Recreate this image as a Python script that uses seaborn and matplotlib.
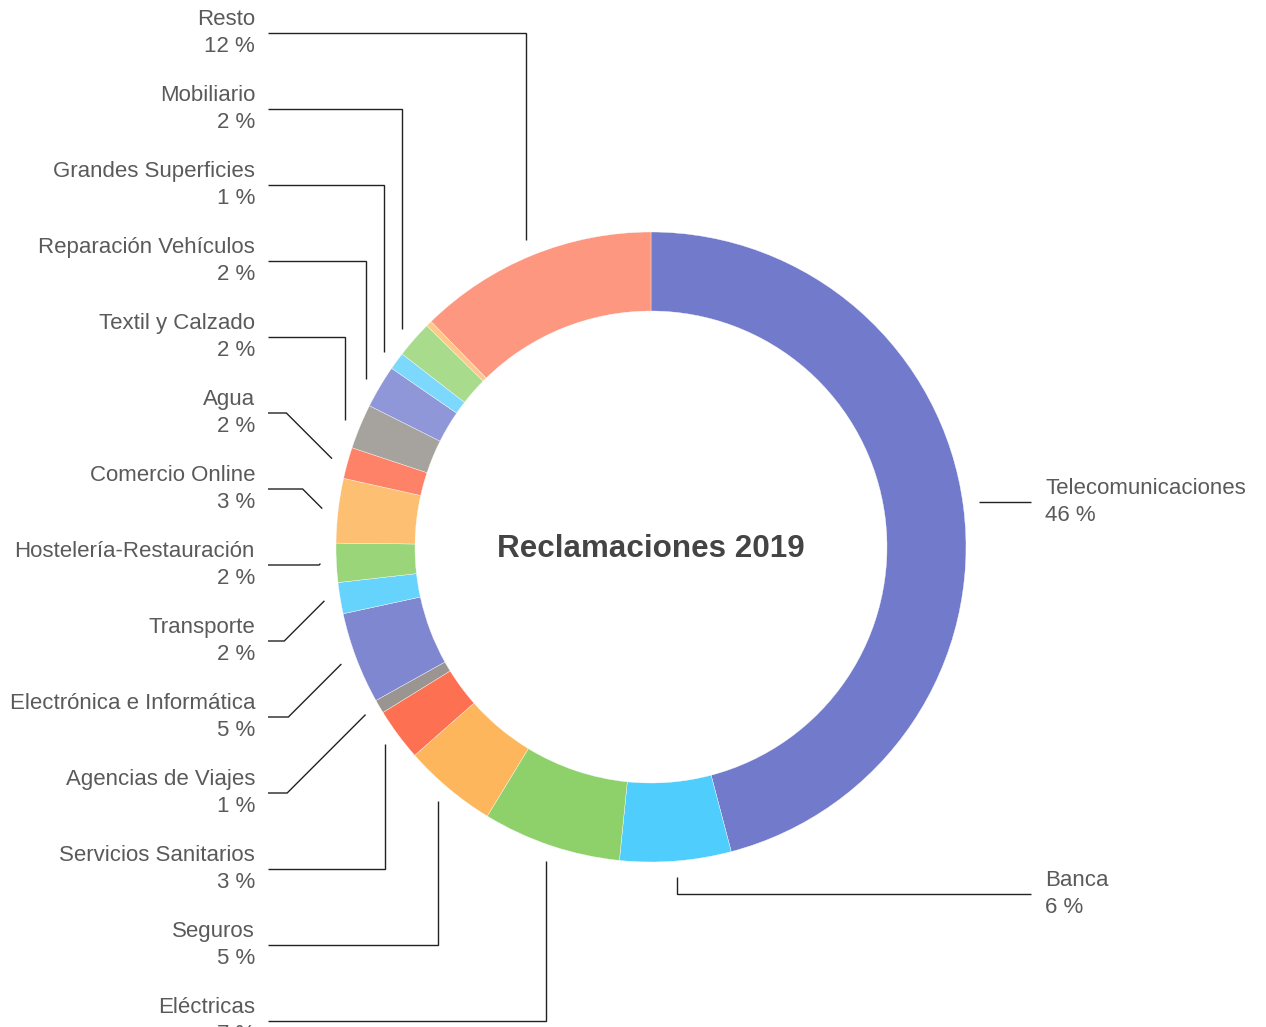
import numpy as np
import matplotlib
matplotlib.use("Agg")
import matplotlib.pyplot as plt
import seaborn as sns

# ---- data (percent of claims, clockwise from 12 o'clock)
categories = [
    "Telecomunicaciones", "Banca", "Eléctricas", "Seguros", "Servicios Sanitarios",
    "Agencias de Viajes", "Electrónica e Informática", "Transporte",
    "Hostelería-Restauración", "Comercio Online", "Agua", "Textil y Calzado",
    "Reparación Vehículos", "Grandes Superficies", "Mobiliario", "", "Resto",
]
values = [45.9, 5.7, 7.1, 4.8, 2.7, 0.7, 4.7, 1.6, 2.0, 3.3, 1.6, 2.3, 2.2, 0.9, 1.9, 0.3, 12.3]
colors = [
    "#717ACB", "#4FCDFD", "#8ED16A", "#FDB65B", "#FD7152", "#9A9590", "#8087D1",
    "#66D3FD", "#9BD57A", "#FDBF72", "#FD8268", "#A6A29E", "#8F97D8", "#7CD9FD",
    "#A8DB8B", "#FDC888", "#FD977F",
]
right_side = ["Telecomunicaciones", "Banca"]
title = "Reclamaciones 2019"

# ---- style
sns.set_theme(style="white")
plt.rcParams["font.family"] = ["Liberation Sans", "DejaVu Sans"]
palette = sns.color_palette(colors)

W, H = 1266, 1027
fig = plt.figure(figsize=(W / 100, H / 100), dpi=100)
ax = fig.add_axes([0, 0, 1, 1])

def Y(py):
    return H - py

cx, cy = 651, Y(547)
R_out, R_in = 315, 236

wedges, _ = ax.pie(values, colors=palette, startangle=90, counterclock=False,
                   radius=R_out, center=(cx, cy),
                   wedgeprops=dict(width=R_out - R_in, linewidth=0.25, edgecolor="white"))

ax.set_xlim(0, W)
ax.set_ylim(0, H)
ax.set_aspect("equal")
ax.axis("off")

ax.text(cx, cy - 2, title, ha="center", va="center", fontsize=22.6, fontweight="bold", color="#444444")

total = sum(values)
text_color = "#5a5a5a"
line_kw = dict(color="#222222", lw=1.0, solid_capstyle="butt", solid_joinstyle="miter")
R_anchor = 331
label_size = 16
lsp = 1.32

# left labels: evenly spaced from top to bottom, order from top (Resto) down to Eléctricas
left_items = [i for i, c in enumerate(categories) if c and c not in right_side]
left_items = left_items[::-1]
left_ys = 33 + 76 * np.arange(len(left_items))
x_line_l, x_text_l = 268, 255

for i, py in zip(left_items, left_ys):
    w = wedges[i]
    ang = np.deg2rad((w.theta1 + w.theta2) / 2)
    axx, ayy = cx + R_anchor * np.cos(ang), cy + R_anchor * np.sin(ang)
    Ly = Y(py)
    dy = abs(ayy - Ly)
    if dy < 80:
        ex = axx - dy
        ax.plot([x_line_l, ex, axx], [Ly, Ly, ayy], **line_kw)
    else:
        ax.plot([x_line_l, axx, axx], [Ly, Ly, ayy], **line_kw)
    pct = round(values[i] / total * 100)
    ax.text(x_text_l, Ly, f"{categories[i]}\n{pct} %", ha="right", va="center",
            multialignment="right", fontsize=label_size, color=text_color, linespacing=lsp)

# right labels
right_ys = {"Telecomunicaciones": 502, "Banca": 894}
x_line_r, x_text_r = 1031, 1045
for name, py in right_ys.items():
    i = categories.index(name)
    w = wedges[i]
    ang = np.deg2rad((w.theta1 + w.theta2) / 2)
    axx, ayy = cx + R_anchor * np.cos(ang), cy + R_anchor * np.sin(ang)
    Ly = Y(py)
    if abs(ayy - Ly) < 3:
        ax.plot([axx, x_line_r], [Ly, Ly], **line_kw)
    else:
        ax.plot([axx, axx, x_line_r], [ayy, Ly, Ly], **line_kw)
    pct = round(values[i] / total * 100)
    ax.text(x_text_r, Ly, f"{name}\n{pct} %", ha="left", va="center",
            multialignment="left", fontsize=label_size, color=text_color, linespacing=lsp)

fig.savefig("out.png", dpi=100, facecolor="white")
